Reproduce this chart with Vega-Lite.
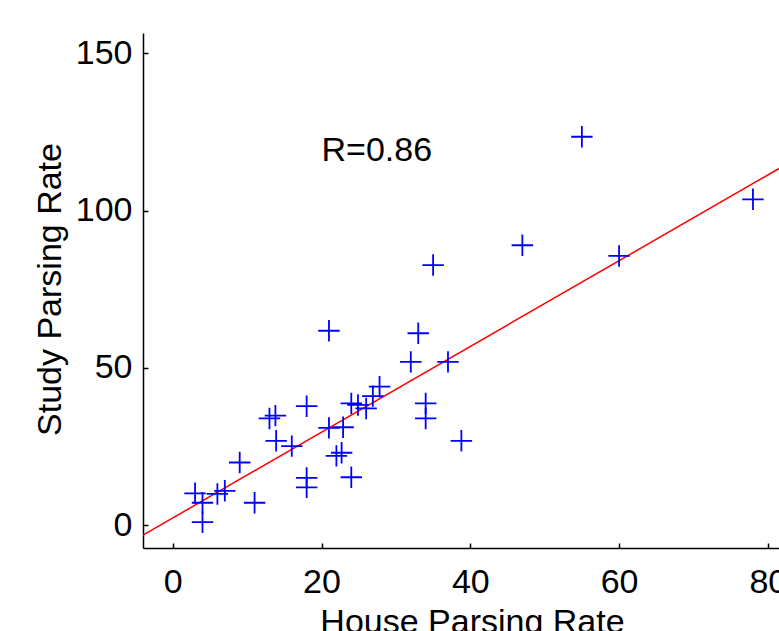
{
  "$schema": "https://vega.github.io/schema/vega-lite/v6.json",
  "autosize": "none",
  "width": 636,
  "height": 515,
  "padding": {"left": 143, "top": 33, "right": 0, "bottom": 83},
  "background": "white",
  "config": {
    "view": {"stroke": null},
    "font": "Liberation Sans",
    "axis": {
      "grid": false,
      "domainColor": "black",
      "domainWidth": 1.5,
      "tickColor": "black",
      "tickWidth": 1.5,
      "tickSize": -5,
      "labelFont": "Liberation Sans",
      "labelFontSize": 34,
      "labelColor": "black",
      "titleFont": "Liberation Sans",
      "titleFontSize": 34,
      "titleFontWeight": "normal",
      "titleColor": "black",
      "labelFlush": false,
      "labelOverlap": false
    }
  },
  "datasets": {
    "points": [
      {"house": 55, "study": 123.5},
      {"house": 78, "study": 103.6},
      {"house": 47, "study": 89.0},
      {"house": 35, "study": 82.7},
      {"house": 60, "study": 85.6},
      {"house": 21, "study": 61.8},
      {"house": 33, "study": 61.0},
      {"house": 32, "study": 51.9},
      {"house": 37, "study": 51.9},
      {"house": 27.8, "study": 44.0},
      {"house": 26.9, "study": 41.0},
      {"house": 24.0, "study": 38.7},
      {"house": 24.9, "study": 38.2},
      {"house": 26.0, "study": 37.1},
      {"house": 34.0, "study": 38.7},
      {"house": 34.0, "study": 33.9},
      {"house": 38.8, "study": 26.8},
      {"house": 18.0, "study": 37.8},
      {"house": 13.0, "study": 33.9},
      {"house": 13.8, "study": 34.8},
      {"house": 21.0, "study": 30.9},
      {"house": 22.9, "study": 31.1},
      {"house": 13.9, "study": 26.8},
      {"house": 16.0, "study": 25.1},
      {"house": 22.0, "study": 22.0},
      {"house": 22.7, "study": 23.0},
      {"house": 9.0, "study": 19.9},
      {"house": 24.0, "study": 15.2},
      {"house": 18.0, "study": 15.0},
      {"house": 18.0, "study": 12.0},
      {"house": 11.0, "study": 7.1},
      {"house": 3.0, "study": 10.1},
      {"house": 4.0, "study": 7.1},
      {"house": 4.0, "study": 0.9},
      {"house": 6.0, "study": 9.9},
      {"house": 7.0, "study": 10.9}
    ],
    "fit": [
      {"house": -4, "study": -3.2},
      {"house": 81.5, "study": 113.4}
    ],
    "note": [
      {"house": 20, "study": 119, "label": "R=0.86"}
    ]
  },
  "layer": [
    {
      "data": {"name": "fit"},
      "mark": {"type": "line", "color": "#ff0000", "strokeWidth": 1.5, "clip": true},
      "encoding": {
        "x": {
          "field": "house", "type": "quantitative",
          "scale": {"domain": [-4, 81.5], "nice": false, "zero": false},
          "axis": {
            "values": [0, 20, 40, 60, 80],
            "title": "House Parsing Rate",
            "labelPadding": 22,
            "titleX": 329,
            "titleY": 84,
            "titleAlign": "center",
            "titleBaseline": "alphabetic",
            "titleAnchor": null
          }
        },
        "y": {
          "field": "study", "type": "quantitative",
          "scale": {"domain": [-7.3, 156.5], "nice": false, "zero": false},
          "axis": {
            "values": [0, 50, 100, 150],
            "title": "Study Parsing Rate",
            "labelPadding": 16,
            "titleX": -83,
            "titleY": 256,
            "titleAngle": -90,
            "titleAlign": "center",
            "titleBaseline": "alphabetic",
            "titleAnchor": null
          }
        }
      }
    },
    {
      "data": {"name": "points"},
      "mark": {
        "type": "point",
        "shape": "M-1,0H1M0,-1V1",
        "filled": false,
        "stroke": "#0000ff",
        "strokeWidth": 1.8,
        "size": 460,
        "opacity": 1
      },
      "encoding": {
        "x": {"field": "house", "type": "quantitative"},
        "y": {"field": "study", "type": "quantitative"}
      }
    },
    {
      "data": {"name": "note"},
      "mark": {
        "type": "text",
        "align": "left",
        "baseline": "middle",
        "font": "Liberation Sans",
        "fontSize": 34,
        "color": "black"
      },
      "encoding": {
        "x": {"field": "house", "type": "quantitative"},
        "y": {"field": "study", "type": "quantitative"},
        "text": {"field": "label"}
      }
    }
  ]
}
